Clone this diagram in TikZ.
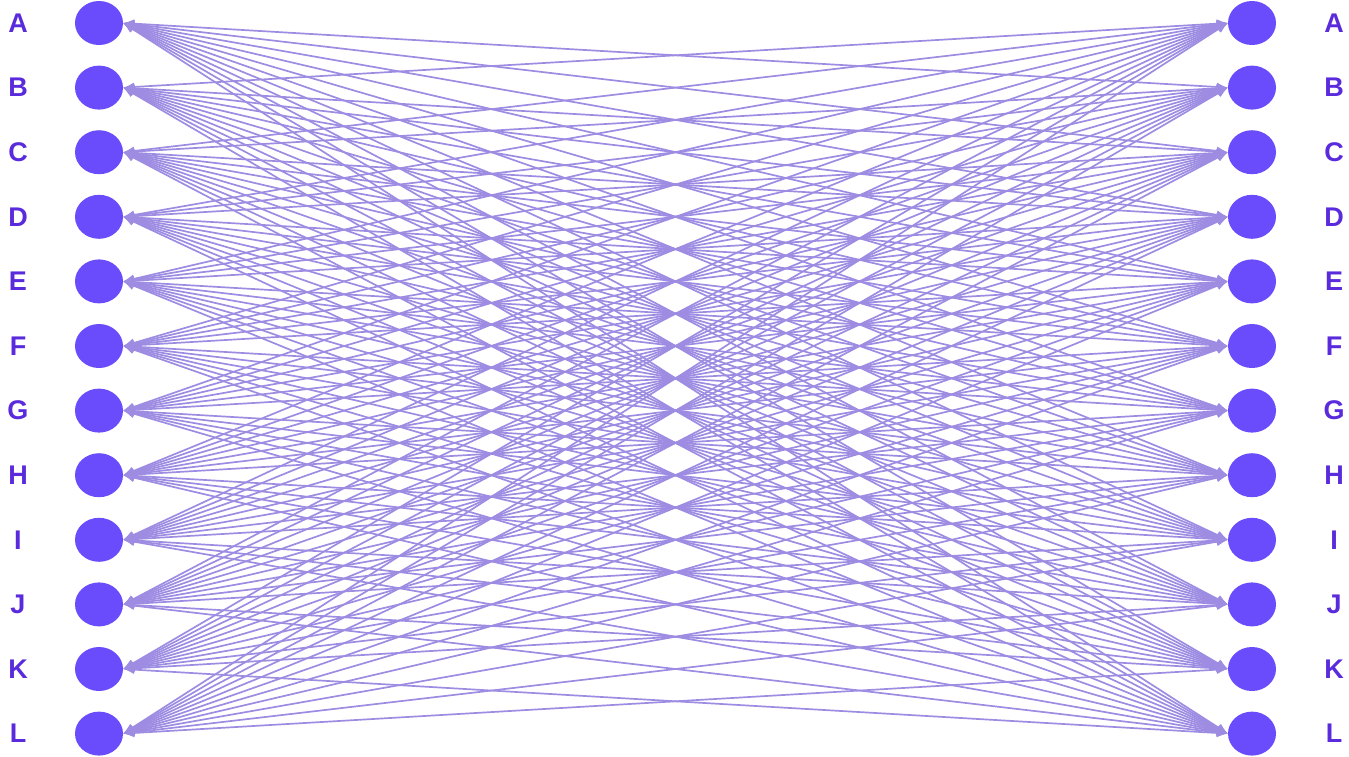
\documentclass[tikz,border=0pt]{standalone}
\usepackage{fontspec}
\setmainfont{Liberation Sans}
\usetikzlibrary{arrows.meta,shapes.geometric}
\definecolor{nodefill}{HTML}{6B4CFC}
\definecolor{labelcol}{HTML}{5A2BDC}
\definecolor{edgecol}{HTML}{9D8CE2}

\begin{document}
\begin{tikzpicture}[
  x=1pt,y=-1pt,
  n/.style={ellipse,fill=nodefill,inner sep=0pt,minimum width=48pt,minimum height=44pt},
  lab/.style={font=\fontsize{27}{30}\selectfont\bfseries,text=labelcol,inner sep=0pt},
  arr/.style={{Latex[length=11pt,width=9pt]}-{Latex[length=11pt,width=9pt]},draw=edgecol,line width=1.7pt}
]
\useasboundingbox (0,0) rectangle (1349,756);
% Nodes and labels on both sides
\foreach \name [count=\i] in {A,B,C,D,E,F,G,H,I,J,K,L} {
  \pgfmathsetmacro{\y}{23+64.6*(\i-1)}
  \node[n] (l\i) at (99,\y) {};
  \node[n] (r\i) at (1252,\y) {};
  \node[lab] (ll\i) at (18,\y) {\name};
  \node[lab] (rl\i) at (1334,\y) {\name};
}
% Each left node is linked with every right node of another letter
\foreach \i in {1,...,12} {
  \foreach \j in {1,...,12} {
    \ifnum\i=\j\else
      \draw[arr] (l\i.east) -- (r\j.west);
    \fi
  }
}
\end{tikzpicture}
\end{document}
